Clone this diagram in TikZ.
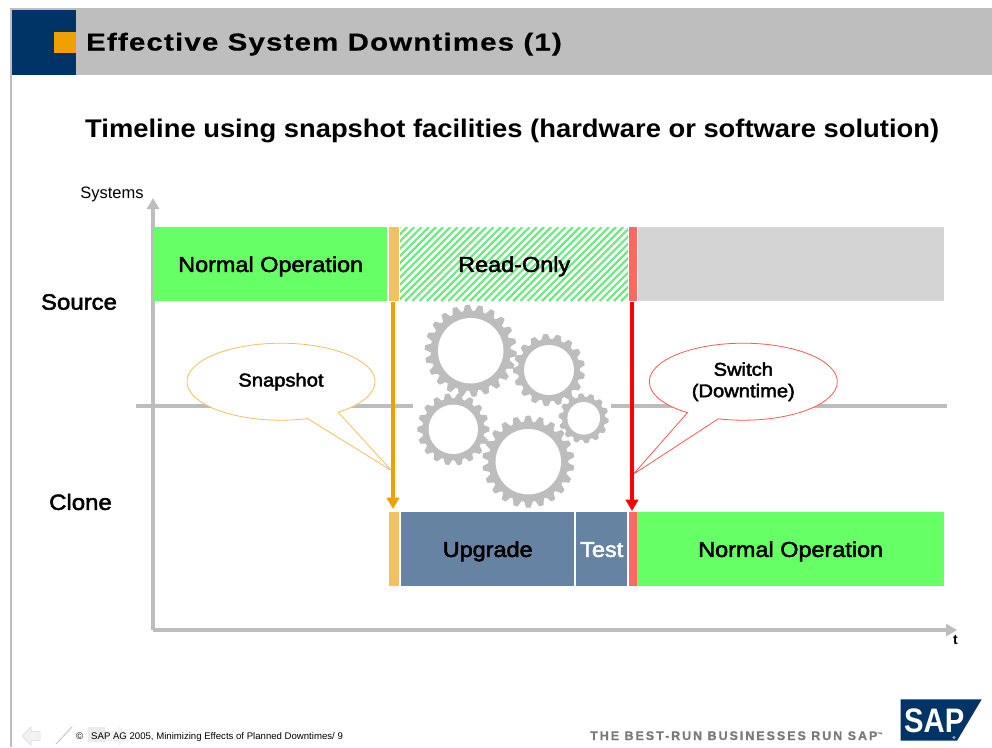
\documentclass[tikz,border=0pt]{standalone}
\usepackage{fontspec}
\setmainfont{Liberation Sans}
\newfontfamily\titlefont[FakeStretch=1.2,LetterSpace=4.9,FakeBold=0.6]{Liberation Sans Bold}
\newfontfamily\subfont[FakeStretch=1.073]{Liberation Sans}
\newfontfamily\tagfont[LetterSpace=15.7,FakeBold=0.6]{Liberation Sans Bold}
\newfontfamily\semifont[FakeStretch=1.09,FakeBold=2.4]{Liberation Sans}
\usetikzlibrary{arrows.meta,shapes.callouts,shapes.geometric}
\definecolor{navy}{HTML}{003366}
\definecolor{sapor}{HTML}{F0A000}
\definecolor{headgray}{HTML}{BEBEBE}
\definecolor{axisgray}{HTML}{BDBDBD}
\definecolor{opgreen}{HTML}{66FF66}
\definecolor{hatchgreen}{HTML}{6EEB80}
\definecolor{lightor}{HTML}{F5C060}
\definecolor{lightred}{HTML}{FF6666}
\definecolor{steel}{HTML}{6683A3}
\definecolor{paneg}{HTML}{D4D4D4}
\definecolor{tagg}{HTML}{7A7A7A}
\newcommand{\fsz}[1]{\fontsize{#1}{#1}\selectfont}
\newcommand{\low}[1]{\raisebox{-2pt}{#1}}
% cog: x, y, outer, root, hole, teeth, rotation
\newcommand{\cog}[7]{%
  \pgfmathsetmacro{\cogstep}{360/#6}%
  \begin{scope}[shift={(#1,#2)}]
    \filldraw[axisgray,line width=1pt,line join=round] ({#7-.36*\cogstep}:#4)
      \foreach \k [evaluate=\k as \a using #7+\k*360/#6] in {1,...,#6}{
        -- ({\a-.36*\cogstep-\cogstep}:#4) -- ({\a-.14*\cogstep-\cogstep}:#3)
        -- ({\a+.14*\cogstep-\cogstep}:#3) -- ({\a+.36*\cogstep-\cogstep}:#4)
      } -- cycle;
    \fill[white] (0,0) circle[radius=#5];
  \end{scope}}
\tikzset{
  x=1pt,y=-1pt,
  bar/.style={anchor=north west,inner sep=0pt,minimum height=74pt,font=\fsz{21.5}\semifont,text height=16pt,text depth=.6pt},
  axisline/.style={draw=axisgray,line width=3.8pt},
  axisarrow/.style={axisline,-{Triangle[width=12pt,length=11pt]}},
  flow/.style={line width=4.2pt,-{Triangle[width=12.5pt,length=11.5pt]},shorten >=1pt},
  bubble/.style={ellipse callout,fill=white,minimum width=188pt,minimum height=77pt,inner sep=0pt,line width=.8pt,
    callout pointer arc=21,font=\fsz{18.5}\semifont,align=center},
  side/.style={font=\fsz{22}\semifont,inner sep=0pt},
}
\begin{document}
\begin{tikzpicture}
\useasboundingbox (0,0) rectangle (992,747);
\fill[white] (0,0) rectangle (992,747);
% frame and header
\fill[headgray] (10,8) rectangle (992,75);
\fill[headgray] (10,8) rectangle (12,747);
\fill[navy] (12,10) rectangle (76,75);
\fill[sapor] (54,32) rectangle (76,53);
\node[anchor=base west,inner sep=0pt,font=\fsz{24.5}\titlefont] (title) at (86,50.5) {Effective System Downtimes (1)};
\node[anchor=base west,inner sep=0pt,font=\fsz{25.5}\bfseries\subfont] (subtitle) at (85,137) {Timeline using snapshot facilities (hardware or software solution)};
% axes
\coordinate (orig) at (153,630);
\coordinate (ytop) at (153,198);
\coordinate (xend) at (957,630);
\coordinate (ml) at (136,406);
\coordinate (mg) at (413,406);
\coordinate (mh) at (611,406);
\coordinate (mr) at (947,406);
\draw[axisarrow] (orig) -- (ytop);
\draw[axisarrow] (orig) -- (xend);
\draw[axisline] (ml) -- (mg);
\draw[axisline] (mh) -- (mr);
\node[font=\fsz{16.5},inner sep=0pt] (systems) at (112,194) {Systems};
\node[side] (source) at (79,302) {Source};
\node[side] (clone) at (80.5,502) {Clone};
\node[font=\fsz{14}\bfseries,inner sep=0pt] (tlabel) at (955.5,640) {t};
% source row
\node[bar,fill=opgreen,minimum width=233pt] (s1) at (154,227) {Normal Operation};
\node[bar,fill=lightor,minimum width=10pt] (s2) at (389,227) {};
\begin{scope}
  \clip (400,227) rectangle (628,301);
  \foreach \i in {0,...,43}{
    \draw[hatchgreen,line width=2.2pt] ({400+7.2*\i-74},301) -- ({400+7.2*\i},227);
  }
\end{scope}
\node[bar,minimum width=228pt] (s3) at (400,227) {Read-Only};
\node[bar,fill=lightred,minimum width=8pt] (s4) at (629,227) {};
\node[bar,fill=paneg,minimum width=306pt] (s5) at (638,227) {};
% clone row
\node[bar,fill=lightor,minimum width=10pt] (c1) at (389,512) {};
\node[bar,fill=steel,minimum width=173pt] (c2) at (401,512) {Upgrade};
\node[bar,fill=steel,minimum width=51pt,text=white] (c3) at (576,512) {Test};
\node[bar,fill=lightred,minimum width=7.5pt] (c4) at (629,512) {};
\node[bar,fill=opgreen,minimum width=307pt] (c5) at (637,512) {Normal Operation};
% gears
\cog{470.7}{350.7}{45.5}{39.5}{32.7}{22}{4}
\cog{549}{370}{35.5}{30.5}{25}{17}{10}
\cog{453.3}{429.3}{35.5}{30.5}{24.7}{18}{0}
\cog{528.3}{461.7}{45.5}{39.5}{32.7}{22}{8}
\cog{583.7}{418.3}{24.5}{21}{16.3}{14}{6}
% callouts
\node[bubble,draw=lightor,callout absolute pointer={(391.7,470.7)}] (snap) at (281,381.7) {\low{Snapshot}};
\node[bubble,draw=lightred!85!red,callout absolute pointer={(633.3,474.3)}] (switch) at (743.3,381.7) {\low{Switch}\\[3pt]\low{(Downtime)}};
% flows
\coordinate (oa) at (393,302);
\coordinate (ob) at (393,510);
\coordinate (ra) at (632,302);
\coordinate (rb) at (632,512);
\draw[flow,draw=sapor,fill=sapor] (oa) -- (ob);
\draw[flow,draw=red,fill=red] (ra) -- (rb);
% footer
\fill[black!8] (88,727) rectangle (105,742);
\fill[black!5,draw=black!15,line width=.5pt] (22,736) -- (31,727) -- (31,731.5) -- (40,731.5) -- (40,740.5) -- (31,740.5) -- (31,745) -- cycle;
\fill[black!4,draw=black!8,line width=.5pt] (128,736) -- (119,727) -- (119,731.5) -- (105,731.5) -- (105,740.5) -- (119,740.5) -- (119,745) -- cycle;
\draw[black!25,line width=.8pt] (56,744) -- (72,727);
\node[anchor=base west,inner sep=0pt,font=\fsz{9.6}] (copy) at (76,739.5) {©};
\node[anchor=base west,inner sep=0pt,font=\fsz{9.6}] (foot) at (91,739.5) {SAP AG 2005, Minimizing Effects of Planned Downtimes/ 9};
\node[anchor=base west,inner sep=0pt,font=\fsz{12.5}\tagfont,text=tagg] (tag) at (590,740) {THE BEST-RUN BUSINESSES RUN SAP\raisebox{4pt}{\fsz{5}™}};
% logo
\fill[navy] (900.7,699.3) -- (981.7,699.3) -- (957,740.7) -- (900.7,740.7) -- cycle;
\node[anchor=base west,inner sep=0pt,font=\fsz{34}\bfseries,text=white,xscale=.86] (sap) at (904,732) {SAP};
\fill[white!60!navy] (954,737.5) circle[radius=1.6];
\end{tikzpicture}
\end{document}
